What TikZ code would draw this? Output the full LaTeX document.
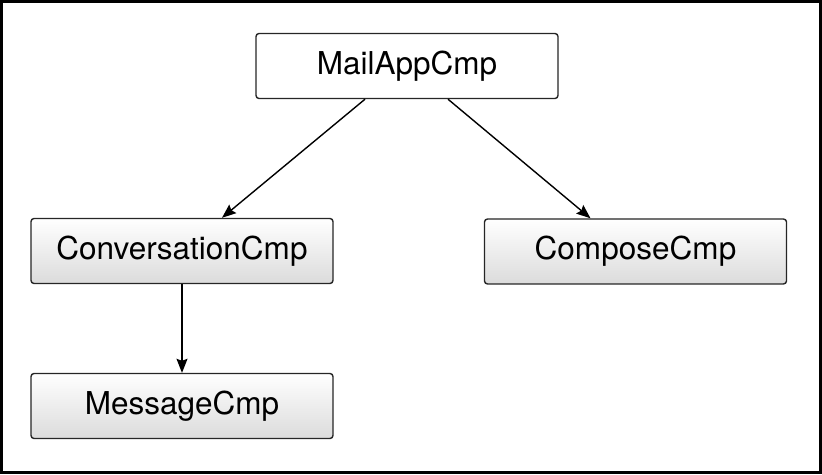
\documentclass[tikz,border=0pt]{standalone}
\usepackage{fontspec}
\setmainfont{TeX Gyre Heros}
\usetikzlibrary{arrows.meta}
\begin{document}
\begin{tikzpicture}[x=1pt,y=1pt,
		cmpbox/.style={draw=black!85,line width=1.4pt,rounded corners=3pt,
			minimum width=302pt,minimum height=65pt,inner sep=0pt,
			top color=white,bottom color=black!14,
			font=\fontsize{31.5}{36}\selectfont},
		rootbox/.style={cmpbox,top color=white,bottom color=white},
		link/.style={line width=1.4pt,-{Stealth[length=14pt,width=11pt,inset=2pt]}}]
		\useasboundingbox (0,0) rectangle (822,474);
		\draw[line width=3pt] (1.5,2) rectangle (820.5,472.5);

		\node[rootbox] (mail) at (407,408){MailAppCmp};
		\node[cmpbox] (conv) at (182,223){ConversationCmp};
		\node[cmpbox] (compose) at (635.5,222.5){ComposeCmp};
		\node[cmpbox] (msg) at (182,68){MessageCmp};

		\draw[link] ([xshift=-42pt]mail.south)--([xshift=40pt]conv.north);
		\draw[link] ([xshift=41pt]mail.south)--([xshift=-45pt]compose.north);
		\draw[link] (conv.south)--(msg.north);
	\end{tikzpicture}
\end{document}
